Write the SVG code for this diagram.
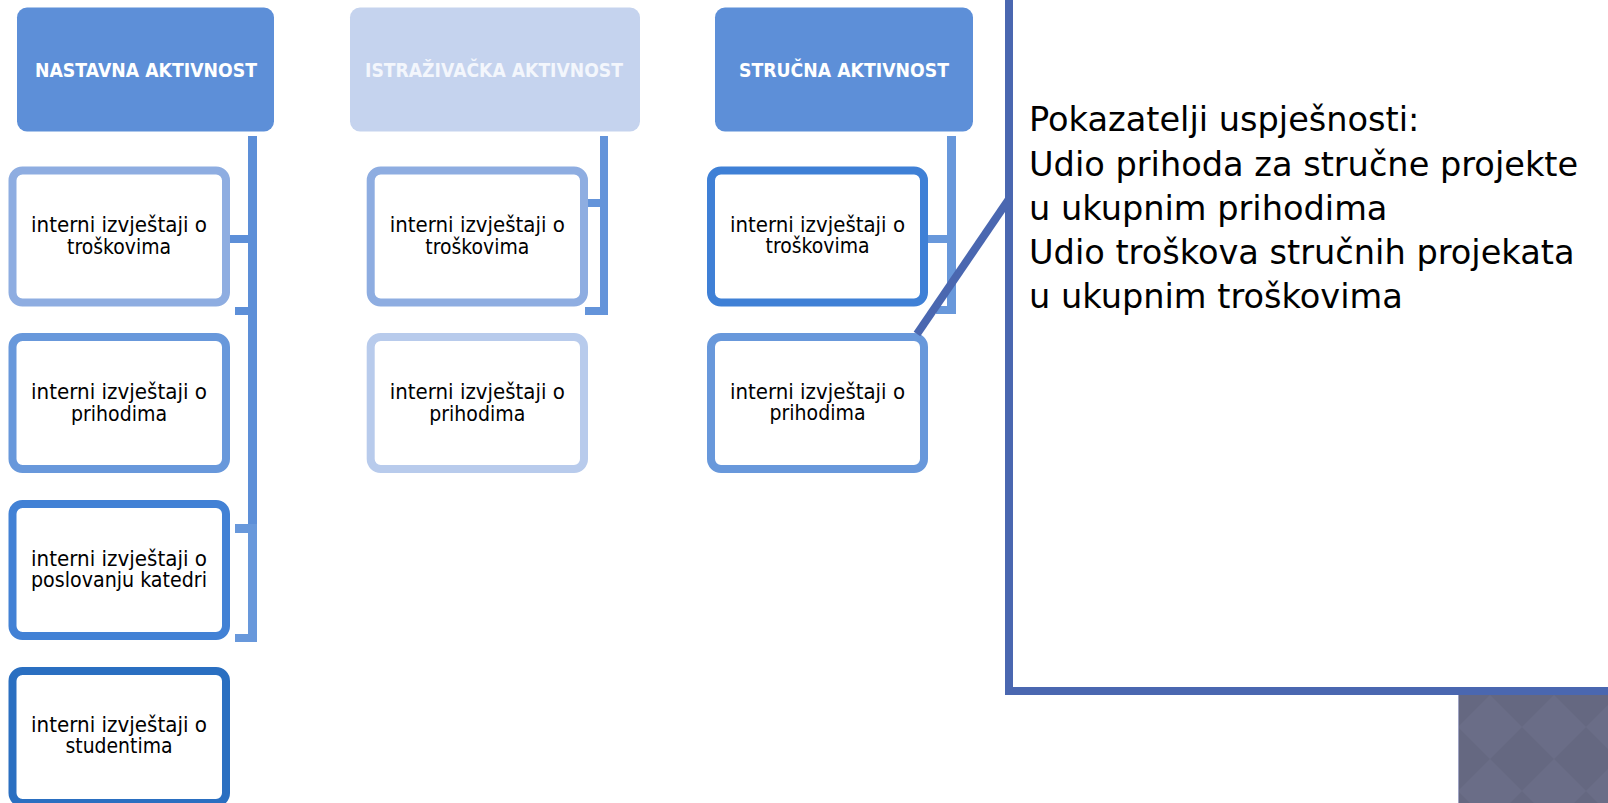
<svg xmlns="http://www.w3.org/2000/svg" width="1608" height="803" viewBox="0 0 1608 803">
  <defs>
    <style>
      .hdr { font-family: "DejaVu Sans", "Liberation Sans", sans-serif; font-weight: bold; font-size: 19.5px; fill: #FFFFFF; text-anchor: middle; }
      .txt { font-family: "DejaVu Sans", "Liberation Sans", sans-serif; font-size: 21px; fill: #000000; text-anchor: middle; }
      .call { font-family: "DejaVu Sans", "Liberation Sans", sans-serif; font-size: 33.6px; fill: #000000; }
      .box { fill: #FFFFFF; stroke-width: 8; }
    </style>
    <pattern id="diam" x="1458" y="695" width="64" height="64" patternUnits="userSpaceOnUse">
      <rect width="64" height="64" fill="#656881"/>
      <polygon points="32,0 64,32 32,64 0,32" fill="#6A6D87"/>
    </pattern>
  </defs>
  <rect width="1608" height="803" fill="#FFFFFF"/>

  <g id="connectors">
    <rect x="248" y="136" width="9" height="392" fill="#5D8FD8"/>
    <rect x="248" y="524" width="9" height="118" fill="#6898DB"/>
    <rect x="226" y="235" width="24" height="8" fill="#5D8FD8"/>
    <rect x="235" y="307" width="20" height="8" fill="#5D8FD8"/>
    <rect x="235" y="524" width="20" height="9" fill="#6898DB"/>
    <rect x="235" y="634" width="22" height="8" fill="#6898DB"/>

    <rect x="600" y="136" width="8" height="179" fill="#6494DA"/>
    <rect x="586" y="199" width="16" height="8" fill="#6494DA"/>
    <rect x="585" y="307" width="23" height="8" fill="#6494DA"/>

    <rect x="947" y="136" width="9" height="178" fill="#6898DB"/>
    <rect x="926" y="235" width="23" height="8" fill="#6898DB"/>
    <rect x="936" y="306" width="20" height="8" fill="#6898DB"/>
  </g>

  <g id="col1-header">
    <rect x="17" y="7.5" width="257" height="124" rx="10" fill="#5D8FD8"/>
    <text class="hdr" x="146" y="77" textLength="222" lengthAdjust="spacingAndGlyphs">NASTAVNA AKTIVNOST</text>
  </g>
  <g id="col1-box1">
    <rect class="box" x="12.5" y="170.5" width="213.5" height="132" rx="10" stroke="#8EADE1"/>
    <text class="txt" x="119" y="232" textLength="176" lengthAdjust="spacingAndGlyphs">interni izvještaji o</text>
    <text class="txt" x="119" y="253.5" textLength="104" lengthAdjust="spacingAndGlyphs">troškovima</text>
  </g>
  <g id="col1-box2">
    <rect class="box" x="12.5" y="337" width="213.5" height="132" rx="10" stroke="#6898DB"/>
    <text class="txt" x="119" y="399" textLength="176" lengthAdjust="spacingAndGlyphs">interni izvještaji o</text>
    <text class="txt" x="119" y="420.5" textLength="96" lengthAdjust="spacingAndGlyphs">prihodima</text>
  </g>
  <g id="col1-box3">
    <rect class="box" x="12.5" y="504" width="213.5" height="132" rx="10" stroke="#4281D5"/>
    <text class="txt" x="119" y="565.7" textLength="176" lengthAdjust="spacingAndGlyphs">interni izvještaji o</text>
    <text class="txt" x="119" y="587" textLength="176" lengthAdjust="spacingAndGlyphs">poslovanju katedri</text>
  </g>
  <g id="col1-box4">
    <rect class="box" x="12.5" y="671" width="213.5" height="132" rx="10" stroke="#2A6FC1"/>
    <text class="txt" x="119" y="731.7" textLength="176" lengthAdjust="spacingAndGlyphs">interni izvještaji o</text>
    <text class="txt" x="119" y="753" textLength="107" lengthAdjust="spacingAndGlyphs">studentima</text>
  </g>

  <g id="col2-header">
    <rect x="350" y="7.5" width="290" height="124" rx="10" fill="#C5D3EE"/>
    <text class="hdr" x="494" y="77" style="fill:#F3F6FC" textLength="258" lengthAdjust="spacingAndGlyphs">ISTRAŽIVAČKA AKTIVNOST</text>
  </g>
  <g id="col2-box1">
    <rect class="box" x="370.7" y="170.5" width="213.3" height="132" rx="10" stroke="#8EADE1"/>
    <text class="txt" x="477.3" y="232" textLength="175" lengthAdjust="spacingAndGlyphs">interni izvještaji o</text>
    <text class="txt" x="477.3" y="253.5" textLength="104" lengthAdjust="spacingAndGlyphs">troškovima</text>
  </g>
  <g id="col2-box2">
    <rect class="box" x="370.7" y="337" width="213.3" height="132" rx="10" stroke="#B8CBEC"/>
    <text class="txt" x="477.3" y="399" textLength="175" lengthAdjust="spacingAndGlyphs">interni izvještaji o</text>
    <text class="txt" x="477.3" y="420.5" textLength="96" lengthAdjust="spacingAndGlyphs">prihodima</text>
  </g>

  <g id="col3-header">
    <rect x="715" y="7.5" width="258" height="124" rx="10" fill="#5D8FD8"/>
    <text class="hdr" x="844" y="77" textLength="210" lengthAdjust="spacingAndGlyphs">STRUČNA AKTIVNOST</text>
  </g>
  <g id="col3-box1">
    <rect class="box" x="711" y="170.5" width="213" height="132" rx="10" stroke="#3F80D6"/>
    <text class="txt" x="817.5" y="231.7" textLength="175" lengthAdjust="spacingAndGlyphs">interni izvještaji o</text>
    <text class="txt" x="817.5" y="253" textLength="104" lengthAdjust="spacingAndGlyphs">troškovima</text>
  </g>
  <g id="col3-box2">
    <rect class="box" x="711" y="337" width="213" height="132" rx="10" stroke="#6898DB"/>
    <text class="txt" x="817.5" y="398.5" textLength="175" lengthAdjust="spacingAndGlyphs">interni izvještaji o</text>
    <text class="txt" x="817.5" y="420" textLength="96" lengthAdjust="spacingAndGlyphs">prihodima</text>
  </g>

  <g id="callout">
    <rect x="1009" y="-20" width="620" height="711" fill="#FFFFFF" stroke="#4A67B0" stroke-width="8"/>
    <line x1="917" y1="334" x2="1009" y2="199" stroke="#4A67B0" stroke-width="8"/>
    <text class="call" x="1029" y="131">Pokazatelji uspješnosti:</text>
    <text class="call" x="1029" y="175.5">Udio prihoda za stručne projekte</text>
    <text class="call" x="1029" y="220">u ukupnim prihodima</text>
    <text class="call" x="1029" y="264">Udio troškova stručnih projekata</text>
    <text class="call" x="1029" y="308">u ukupnim troškovima</text>
  </g>

  <g id="corner-tile">
    <rect x="1458" y="695" width="150" height="108" fill="url(#diam)"/>
    <line x1="1458.5" y1="695" x2="1458.5" y2="803" stroke="#9EA2C2" stroke-width="1"/>
  </g>
</svg>
